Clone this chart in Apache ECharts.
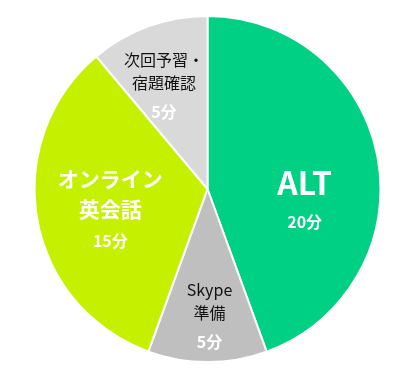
<!DOCTYPE html>
<html lang="ja">
<head>
    <meta charset="UTF-8">
    <title>Pie</title>
    <script src="https://cdn.jsdelivr.net/npm/echarts@6/dist/echarts.min.js"></script>
    <style>
        html, body { margin: 0; padding: 0; background: #fff; }
        #main { width: 406px; height: 377px; }
    </style>
</head>
<body>
<div id="main"></div>
<script>
    var names = ['ALT', 'Skype\n準備', 'オンライン\n英会話', '次回予習・\n宿題確認'];
    var values = [20, 5, 15, 5];
    var units = ['20分', '5分', '15分', '5分'];
    var colors = ['#00D084', '#BFBFBF', '#C5F000', '#D9D9D9'];

    // label styles per slice
    var nameStyle = ['big', 'dark', 'mid', 'dark'];
    var offsets = [[9, 26], [2, 40], [-9, 6], [-13, -16]];

    var data = [];
    for (var i = 0; i < values.length; i++) {
        var lines = names[i].split('\n').map(function (s) {
            return '{' + nameStyle[i] + '|' + s + '}';
        }).join('\n');
        data.push({
            name: names[i],
            value: values[i],
            itemStyle: {color: colors[i]},
            label: {
                formatter: lines + '\n{val|' + units[i] + '}',
                offset: offsets[i]
            }
        });
    }

    var myChart = echarts.init(document.getElementById('main'));
    var option = {
        animation: false,
        series: [{
            type: 'pie',
            center: [207.5, 189],
            radius: [0, 173],
            startAngle: 90,
            clockwise: true,
            data: data,
            itemStyle: {
                borderColor: '#fff',
                borderWidth: 2
            },
            label: {
                position: 'inside',
                fontFamily: 'Noto Sans CJK JP',
                rich: {
                    big: {fontSize: 32, fontWeight: 'bold', color: '#fff', lineHeight: 44, fontFamily: 'Noto Sans CJK JP'},
                    mid: {fontSize: 21, fontWeight: 'bold', color: '#fff', lineHeight: 30, fontFamily: 'Noto Sans CJK JP'},
                    dark: {fontSize: 16, color: '#111', lineHeight: 23, fontFamily: 'Noto Sans CJK JP'},
                    val: {fontSize: 16, fontWeight: 'bold', color: '#fff', lineHeight: 34, fontFamily: 'Noto Sans CJK JP'}
                }
            },
            labelLine: {show: false}
        }]
    };
    myChart.setOption(option);
</script>
</body>
</html>
